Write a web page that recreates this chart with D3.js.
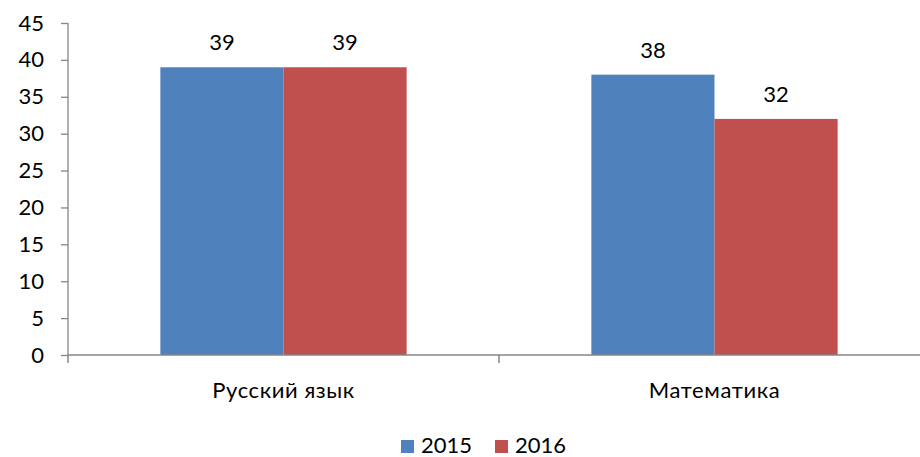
<!DOCTYPE html>
<html>
<head>
<meta charset="utf-8">
<script src="https://cdn.jsdelivr.net/npm/d3@7"></script>
<style>
  body { margin: 0; background: #fff; }
  text { font-family: Lato, "Open Sans", sans-serif; fill: #000; }
</style>
</head>
<body>
<svg id="chart" width="920" height="457"></svg>
<script>
const categories = ["Русский язык", "Математика"];
const years = ["2015", "2016"];
const values2015 = [39, 38];
const values2016 = [39, 32];
const yTicks = [0, 5, 10, 15, 20, 25, 30, 35, 40, 45];
const colors = ["#4F81BD", "#C0504D"];

const svg = d3.select("#chart");
const margin = { left: 68, top: 23, bottom: 102 };
const plotRight = 930;
const height = 457 - margin.bottom;
const fs = 22;

const x = d3.scaleBand().domain(categories).range([margin.left, plotRight]).paddingInner(0).paddingOuter(0);
const x1 = d3.scaleBand().domain(years).range([0, x.bandwidth()]).paddingInner(0).paddingOuter(0.75);
const y = d3.scaleLinear().domain([0, 45]).range([height, margin.top]);

const series = [values2015, values2016];

// bars
categories.forEach((cat, i) => {
    years.forEach((yr, j) => {
        const v = series[j][i];
        svg.append("rect")
            .attr("x", x(cat) + x1(yr))
            .attr("y", y(v))
            .attr("width", x1.bandwidth())
            .attr("height", y(0) - y(v))
            .attr("fill", colors[j]);
        svg.append("text")
            .attr("x", x(cat) + x1(yr) + x1.bandwidth() / 2)
            .attr("y", y(v) - 17)
            .attr("text-anchor", "middle")
            .attr("font-size", fs)
            .text(v);
    });
});

// y axis
const yAxis = svg.append("g")
    .attr("transform", `translate(${margin.left},0)`)
    .call(d3.axisLeft(y).tickValues(yTicks).tickSize(7).tickPadding(17));
yAxis.selectAll("line, path").attr("stroke", "#868686").attr("stroke-width", 1.3);
yAxis.select(".domain").attr("d", `M0,${y(45)}V${y(0)}`);
yAxis.selectAll("text").attr("font-size", fs).attr("font-family", "Lato, sans-serif").attr("fill", "#000");

// x axis
const xAxis = svg.append("g").attr("transform", `translate(0,${height})`);
xAxis.append("line")
    .attr("x1", margin.left).attr("x2", plotRight)
    .attr("stroke", "#868686").attr("stroke-width", 1.5);
[margin.left, x(categories[1])].forEach(px => {
    xAxis.append("line")
        .attr("x1", px).attr("x2", px).attr("y1", 0).attr("y2", 8)
        .attr("stroke", "#868686").attr("stroke-width", 1.5);
});
categories.forEach(cat => {
    xAxis.append("text")
        .attr("x", x(cat) + x.bandwidth() / 2)
        .attr("y", 43)
        .attr("text-anchor", "middle")
        .attr("font-size", fs)
        .attr("letter-spacing", 0.6)
        .text(cat);
});

// legend
const legend = svg.append("g").attr("transform", "translate(401,453)");
const legendPos = [0, 94];
years.forEach((yr, j) => {
    legend.append("rect")
        .attr("x", legendPos[j]).attr("y", -13)
        .attr("width", 13).attr("height", 13)
        .attr("fill", colors[j]);
    legend.append("text")
        .attr("x", legendPos[j] + 20).attr("y", 0)
        .attr("font-size", fs)
        .text(yr);
});
</script>
</body>
</html>
